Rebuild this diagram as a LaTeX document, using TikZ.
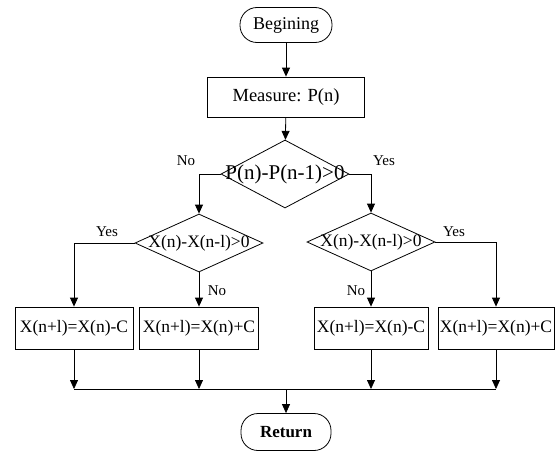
\documentclass[tikz,border=0pt]{standalone}
\usepackage{fontspec}
\setmainfont{Liberation Serif}
\usetikzlibrary{arrows.meta,shapes.geometric}
\begin{document}
\begin{tikzpicture}[x=1pt, y=-1pt, >={Triangle[length=9pt,width=8pt]}, line width=0.8pt,
    term/.style={draw, rounded corners=17pt, minimum width=92pt, minimum height=35pt, font=\fontsize{18}{20}\selectfont},
    proc/.style={draw, inner sep=0pt, minimum height=42pt, font=\fontsize{17.5}{19}\selectfont},
    decision/.style={draw, diamond, inner sep=0pt, minimum width=128pt, minimum height=58pt},
    lab/.style={font=\fontsize{15}{17}\selectfont}]
	\useasboundingbox (0,0) rectangle (556,455);
	\node[term] (begin) at (286,25) {Begining};
	\node[proc, minimum width=157pt, minimum height=40pt, font=\fontsize{18.5}{20}\selectfont] (meas) at (286,97) {Measure: P(n)};
	\node[decision, minimum height=68pt, label={[font=\fontsize{21}{23}\selectfont]center:P(n)-P(n-1)>0}] (d0) at (285,174) {};
	\node[decision, label={[font=\fontsize{17.5}{19}\selectfont]center:X(n)-X(n-l)>0}] (d1) at (199,243) {};
	\node[decision, label={[font=\fontsize{17.5}{19}\selectfont]center:X(n)-X(n-l)>0}] (d2) at (371,242) {};
	\node[proc, minimum width=118pt] (b1) at (74,328) {X(n+l)=X(n)-C};
	\node[proc, minimum width=119pt] (b2) at (199,328) {X(n+l)=X(n)+C};
	\node[proc, minimum width=114pt] (b3) at (371,328) {X(n+l)=X(n)-C};
	\node[proc, minimum width=116pt] (b4) at (496,328) {X(n+l)=X(n)+C};
	\node[term, font=\bfseries\fontsize{17}{19}\selectfont, minimum width=90pt, minimum height=37pt] (ret) at (286,432) {Return};
	\coordinate (join) at (286,389);
	% main line
	\draw[->] (begin) -- (meas);
	\draw[->] (meas) -- (d0);
	\draw[->] (d0.west) -| (d1.north);
	\draw[->] (d0.east) -| (d2.north);
	\draw[->] (d1.west) -| (b1.north);
	\draw[->] (d1.south) -- (b2.north);
	\draw[->] (d2.south) -- (b3.north);
	\draw[->] (d2.east) -| (b4.north);
	\foreach \b in {b1,b2,b3,b4}
	  \draw[->] (\b.south) -- (\b.south |- join);
	\draw (b1.south |- join) -- (b4.south |- join);
	\draw[->] (join) -- (ret);
	% labels
	\node[lab] (no0) at (186,161) {No};
	\node[lab] (yes0) at (384,161) {Yes};
	\node[lab] (yes1) at (107,232) {Yes};
	\node[lab] (no1) at (217,291) {No};
	\node[lab] (no2) at (356,291) {No};
	\node[lab] (yes2) at (454,232) {Yes};
\end{tikzpicture}
\end{document}
